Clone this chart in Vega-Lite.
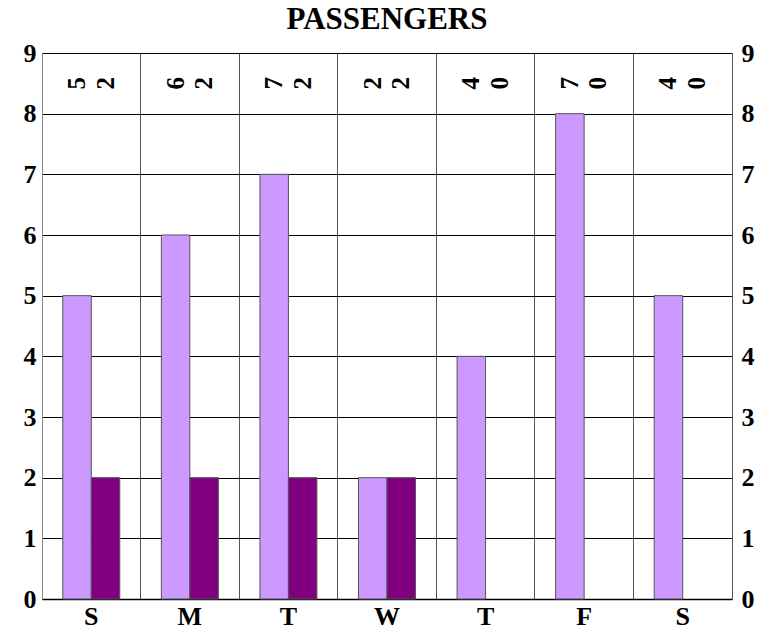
{
  "$schema": "https://vega.github.io/schema/vega-lite/v6.json",
  "autosize": "none",
  "width": 690,
  "height": 546,
  "padding": {"left": 42, "top": 53, "right": 40, "bottom": 32},
  "background": "white",
  "title": {
    "text": "PASSENGERS",
    "font": "Liberation Serif",
    "fontSize": 31,
    "fontWeight": "bold",
    "color": "black",
    "anchor": "middle",
    "offset": 4
  },
  "config": {
    "view": {"stroke": null},
    "text": {"font": "Liberation Serif", "fontWeight": "bold"},
    "axis": {
      "labelFont": "Liberation Serif",
      "labelFontWeight": "bold",
      "labelFontSize": 26,
      "labelColor": "black",
      "ticks": false,
      "title": null
    }
  },
  "data": {
    "values": [
      {"day": "D1", "series": "A", "value": 5, "label": "5"},
      {"day": "D1", "series": "B", "value": 2, "label": "2"},
      {"day": "D2", "series": "A", "value": 6, "label": "6"},
      {"day": "D2", "series": "B", "value": 2, "label": "2"},
      {"day": "D3", "series": "A", "value": 7, "label": "7"},
      {"day": "D3", "series": "B", "value": 2, "label": "2"},
      {"day": "D4", "series": "A", "value": 2, "label": "2"},
      {"day": "D4", "series": "B", "value": 2, "label": "2"},
      {"day": "D5", "series": "A", "value": 4, "label": "4"},
      {"day": "D5", "series": "B", "value": 0, "label": "0"},
      {"day": "D6", "series": "A", "value": 8, "label": "7"},
      {"day": "D6", "series": "B", "value": 0, "label": "0"},
      {"day": "D7", "series": "A", "value": 5, "label": "4"},
      {"day": "D7", "series": "B", "value": 0, "label": "0"}
    ]
  },
  "encoding": {
    "x": {
      "field": "day",
      "type": "nominal",
      "sort": ["D1", "D2", "D3", "D4", "D5", "D6", "D7"],
      "scale": {"paddingInner": 0, "paddingOuter": 0},
      "axis": {
        "orient": "bottom",
        "labelAngle": 0,
        "labelPadding": 4,
        "labelFontSize": 26,
        "labelExpr": "['S','M','T','W','T','F','S'][indexof(['D1','D2','D3','D4','D5','D6','D7'], datum.value)]",
        "grid": true,
        "gridColor": "#555555",
        "gridOpacity": 1,
        "gridWidth": 1,
        "bandPosition": 0,
        "domain": true,
        "domainColor": "black",
        "domainWidth": 1.5
      }
    },
    "xOffset": {
      "field": "series",
      "type": "nominal",
      "sort": ["A", "B"],
      "scale": {"paddingInner": 0, "paddingOuter": 0.73}
    }
  },
  "layer": [
    {
      "transform": [{"filter": "datum.value > 0"}],
      "mark": {"type": "bar", "stroke": "#555555", "strokeWidth": 1},
      "encoding": {
        "y": {
          "field": "value",
          "type": "quantitative",
          "scale": {"domain": [0, 9], "nice": false},
          "axis": {
            "orient": "left",
            "values": [0, 1, 2, 3, 4, 5, 6, 7, 8, 9],
            "labelPadding": 6,
            "grid": true,
            "gridColor": "black",
            "gridOpacity": 1,
            "gridWidth": 1,
            "domain": true,
            "domainColor": "#888888",
            "domainWidth": 1
          }
        },
        "color": {
          "field": "series",
          "type": "nominal",
          "scale": {"domain": ["A", "B"], "range": ["#cc99ff", "#800080"]},
          "legend": null
        }
      }
    },
    {
      "mark": {
        "type": "text",
        "angle": 270,
        "font": "Liberation Serif",
        "fontWeight": "bold",
        "fontSize": 25,
        "align": "center",
        "baseline": "middle",
        "color": "black"
      },
      "encoding": {
        "y": {
          "datum": 8.5,
          "type": "quantitative",
          "axis": {
            "orient": "right",
            "values": [0, 1, 2, 3, 4, 5, 6, 7, 8, 9],
            "labelPadding": 9,
            "grid": false,
            "domain": true,
            "domainColor": "#555555",
            "domainWidth": 1
          }
        },
        "text": {"field": "label"}
      }
    }
  ],
  "resolve": {"axis": {"y": "independent"}}
}
